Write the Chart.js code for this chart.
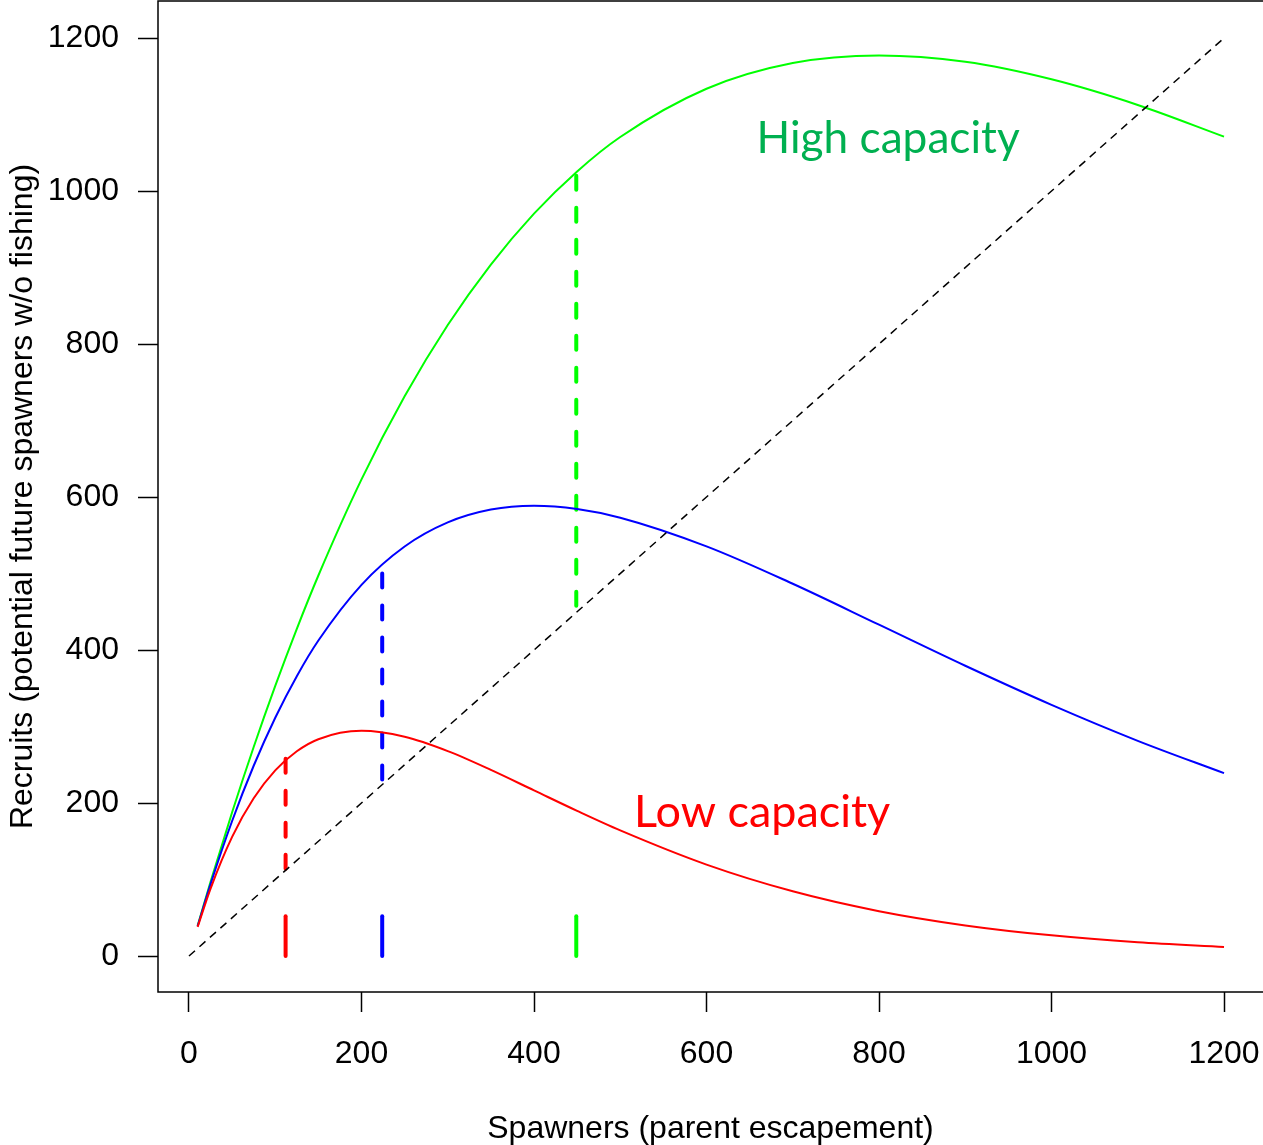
<!DOCTYPE html>
<html><head><meta charset="utf-8">
<script src="https://cdn.jsdelivr.net/npm/chart.js@4.4.1/dist/chart.umd.min.js"></script>
<style>html,body{margin:0;padding:0;background:#fff;overflow:hidden}canvas{display:block}</style>
</head><body>
<canvas id="c" width="1263" height="1145"></canvas>
<script>
// ---- data ----
const spawners      = [10, 25, 50, 75, 100, 125, 150, 200, 250, 300, 350, 400, 450, 500, 600, 700, 800, 900, 1000, 1100, 1200];
const recruitsLow   = [38.0, 88.2, 155.8, 206.2, 242.6, 267.6, 283.4, 294.3, 286.5, 267.8, 243.3, 216.5, 189.7, 164.2, 119.5, 84.6, 58.6, 40.0, 27.0, 18.0, 11.9];
const recruitsMid   = [39.0, 94.0, 176.5, 248.7, 311.5, 365.8, 412.4, 485.2, 535.3, 566.8, 583.6, 588.6, 584.4, 573.0, 535.5, 486.6, 433.1, 379.4, 328.3, 281.3, 239.0];
const recruitsHigh  = [39.5, 96.9, 187.9, 273.2, 353.0, 427.7, 497.4, 623.0, 731.6, 824.8, 903.8, 970.4, 1025.6, 1070.6, 1133.7, 1167.3, 1177.2, 1168.9, 1146.0, 1112.5, 1071.1];
const replacementX  = [0, 1200];
const replacementY  = [0, 1200];
const smsyX         = [112, 224, 449];      // low, mid, high
const smsyCurveTop  = [258, 500, 1020];
const smsyLineBase  = [112, 224, 449];
const smsyMarkTop   = [52, 52, 52];
const xTickValues   = [0, 200, 400, 600, 800, 1000, 1200];
const yTickValues   = [0, 200, 400, 600, 800, 1000, 1200];
const annotationText = ['High capacity', 'Low capacity'];
const annotationAt   = [[658, 1049.7], [516, 168.6]];

const curveColors = ['#FF0000', '#0000FF', '#00FF00'];
const textColors  = ['#00B050', '#FF0000'];

const pts = (xs, ys) => xs.map((x, i) => ({x, y: ys[i]}));

const datasets = [
  {data: pts(replacementX, replacementY), borderColor: '#000', borderWidth: 1.5, borderDash: [8, 6]},
  {data: pts(spawners, recruitsLow),  borderColor: curveColors[0], borderWidth: 2, cubicInterpolationMode: 'monotone'},
  {data: pts(spawners, recruitsMid),  borderColor: curveColors[1], borderWidth: 2, cubicInterpolationMode: 'monotone'},
  {data: pts(spawners, recruitsHigh), borderColor: curveColors[2], borderWidth: 2, cubicInterpolationMode: 'monotone'},
];
smsyX.forEach((x, i) => {
  datasets.push({data: [{x, y: smsyCurveTop[i]}, {x, y: smsyLineBase[i]}], borderColor: curveColors[i], borderWidth: 4, borderDash: [14, 18], borderCapStyle: 'round'});
  datasets.push({data: [{x, y: 0}, {x, y: smsyMarkTop[i]}], borderColor: curveColors[i], borderWidth: 4, borderCapStyle: 'round'});
});
datasets.forEach(d => { d.pointRadius = 0; d.fill = false; d.showLine = true; });

const boxPlugin = {
  id: 'box',
  afterDraw(chart) {
    const {ctx, chartArea: a, scales} = chart;
    ctx.save();
    ctx.strokeStyle = '#000';
    ctx.lineWidth = 1.5;
    ctx.strokeRect(a.left, a.top, a.right + 3 - a.left, a.bottom - a.top);
    annotationText.forEach((t, i) => {
      ctx.font = '100px Lato';
      const m = ctx.measureText(t);
      const target = i === 0 ? 259 : 252;
      const size = 100 * target / (m.actualBoundingBoxRight + m.actualBoundingBoxLeft);
      ctx.font = size.toFixed(2) + 'px Lato';
      ctx.fillStyle = textColors[i];
      ctx.textBaseline = 'alphabetic';
      ctx.textAlign = 'left';
      ctx.fillText(t, scales.x.getPixelForValue(annotationAt[i][0]), scales.y.getPixelForValue(annotationAt[i][1]));
    });
    ctx.restore();
  }
};

const noPad = s => { s.paddingTop = 0; s.paddingBottom = 0; s.paddingLeft = 0; s.paddingRight = 0; };
const tickFont = {family: "'Liberation Sans', Arial, sans-serif", size: 32};
const plain = v => String(v);

new Chart(document.getElementById('c'), {
  type: 'scatter',
  data: {datasets},
  options: {
    responsive: false,
    devicePixelRatio: 1,
    animation: false,
    events: [],
    layout: {autoPadding: false, padding: {top: 1, left: 0, right: 0, bottom: 0}},
    plugins: {legend: {display: false}, tooltip: {enabled: false}},
    scales: {
      x: {
        type: 'linear', min: -35.94, max: 1245.2,
        afterBuildTicks: s => { s.ticks = xTickValues.map(v => ({value: v})); },
        afterFit: s => { s.height = 153; noPad(s); },
        grid: {drawOnChartArea: false, drawTicks: true, tickLength: 20, tickColor: '#000', tickWidth: 1.5},
        border: {display: false},
        ticks: {color: '#000', font: tickFont, padding: 23, maxRotation: 0, autoSkip: false, callback: plain},
        title: {display: true, text: 'Spawners (parent escapement)', color: '#000', font: tickFont, padding: {top: 0, bottom: -3}}
      },
      y: {
        type: 'linear', min: -47.06, max: 1248.4,
        afterBuildTicks: s => { s.ticks = yTickValues.map(v => ({value: v})); },
        afterFit: s => { s.width = 158; noPad(s); },
        grid: {drawOnChartArea: false, drawTicks: true, tickLength: 20, tickColor: '#000', tickWidth: 1.5},
        border: {display: false},
        ticks: {color: '#000', font: tickFont, padding: 19, autoSkip: false, callback: plain},
        title: {display: true, text: 'Recruits (potential future spawners w/o fishing)', color: '#000', font: tickFont, padding: {top: 3.5, bottom: 0}}
      }
    }
  },
  plugins: [boxPlugin]
});
</script>
</body></html>
